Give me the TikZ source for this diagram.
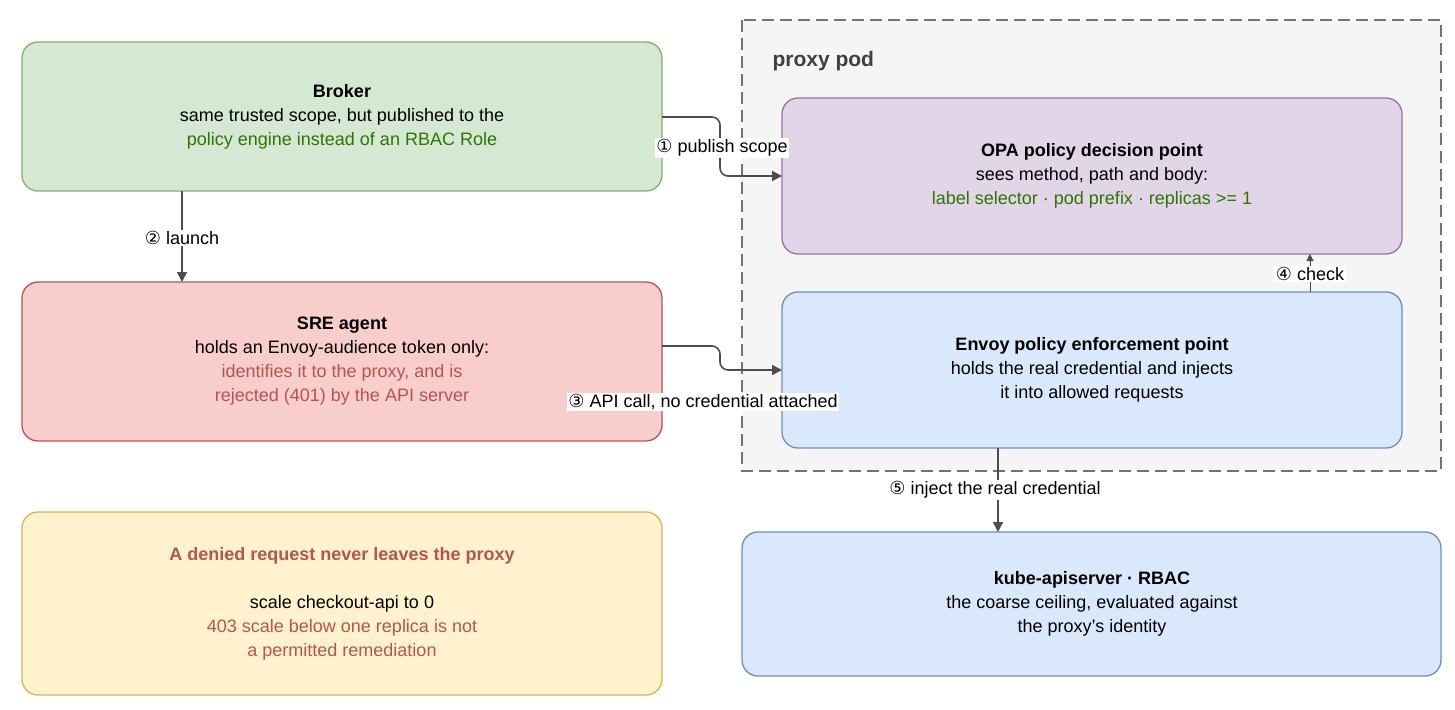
\documentclass[tikz,border=0pt]{standalone}
\usepackage{fontspec}
\setmainfont{Liberation Sans}
\newfontfamily\symf{DejaVu Sans}
\usetikzlibrary{arrows.meta}
\definecolor{gfill}{HTML}{D5E8D4}\definecolor{gline}{HTML}{82B366}
\definecolor{rfill}{HTML}{F8CECC}\definecolor{rline}{HTML}{B85450}
\definecolor{yfill}{HTML}{FFF2CC}\definecolor{yline}{HTML}{D6B656}
\definecolor{pfill}{HTML}{E1D5E7}\definecolor{pline}{HTML}{9673A6}
\definecolor{bfill}{HTML}{DAE8FC}\definecolor{bline}{HTML}{6C8EBF}
\definecolor{gtext}{HTML}{2D7600}\definecolor{rtext}{HTML}{B85450}
\definecolor{arr}{HTML}{4D4D4D}
\tikzset{
 box/.style={draw, rounded corners=16pt, line width=1.3pt},
 txt/.style={align=center, font=\fontsize{18}{24}\selectfont},
 conn/.style={draw=arr, line width=1.6pt, rounded corners=8pt, -{Triangle[length=10pt,width=10pt]}},
 lab/.style={fill=white, inner sep=1.5pt, font=\fontsize{18}{22}\selectfont},
}
\begin{document}
\begin{tikzpicture}[x=1pt,y=-1pt]
\useasboundingbox (0,0) rectangle (1455,709);
\draw[fill=white!96!black, draw=gray!90!black, dashed, dash pattern=on 12pt off 6pt, line width=1.3pt] (742,20) rectangle (1441,471);
\node[anchor=west, font=\bfseries\fontsize{21}{24}\selectfont, text=black!75] (pp) at (769,61) {proxy pod};
\path[box, fill=gfill, draw=gline] (22,42) rectangle (662,191);
\node[txt] (broker) at (342,117) {\textbf{Broker}\\same trusted scope, but published to the\\\textcolor{gtext}{policy engine instead of an RBAC Role}};
\path[box, fill=rfill, draw=rline] (22,282) rectangle (662,441);
\node[txt] (sre) at (342,361) {\textbf{SRE agent}\\holds an Envoy-audience token only:\\\textcolor{rtext}{identifies it to the proxy, and is}\\\textcolor{rtext}{rejected (401) by the API server}};
\path[box, fill=yfill, draw=yline] (22,512) rectangle (662,695);
\node[txt] (deny) at (342,604) {\textcolor{rtext}{\textbf{A denied request never leaves the proxy}}\\[24pt]scale checkout-api to 0\\\textcolor{rtext}{403 scale below one replica is not}\\\textcolor{rtext}{a permitted remediation}};
\path[box, fill=pfill, draw=pline] (782,98) rectangle (1402,254);
\node[txt] (opa) at (1092,176) {\textbf{OPA policy decision point}\\sees method, path and body:\\\textcolor{gtext}{label selector · pod prefix · replicas >= 1}};
\path[box, fill=bfill, draw=bline] (782,292) rectangle (1402,448);
\node[txt] (envoy) at (1092,370) {\textbf{Envoy policy enforcement point}\\holds the real credential and injects\\it into allowed requests};
\path[box, fill=bfill, draw=bline] (742,532) rectangle (1441,676);
\node[txt] (kube) at (1092,604) {\textbf{kube-apiserver · RBAC}\\the coarse ceiling, evaluated against\\the proxy's identity};
\coordinate (b1) at (662,117); \coordinate (o1) at (782,176);
\coordinate (b2) at (182,191); \coordinate (s2) at (182,282);
\coordinate (s3) at (662,346); \coordinate (e3) at (782,370);
\coordinate (e4) at (1310,292); \coordinate (o4) at (1310,254);
\coordinate (e5) at (998,448); \coordinate (k5) at (998,532);
\draw[conn] (b1) -- (720,117) -- (720,176) -- (o1);
\draw[conn] (b2) -- (s2);
\draw[conn] (s3) -- (720,346) -- (720,370) -- (e3);
\draw[conn, -{Triangle[length=7pt,width=7pt]}, line width=1pt] (e4) -- (o4);
\draw[conn, line width=1.3pt] (e5) -- (k5);
\node[lab] (l1) at (722,148) {{\symf ①} publish scope};
\node[lab] (l2) at (182,238) {{\symf ②} launch};
\node[lab] (l3) at (703,402) {{\symf ③} API call, no credential attached};
\node[lab] (l4) at (1310,274) {{\symf ④} check};
\node[lab] (l5) at (995,490) {{\symf ⑤} inject the real credential};
\end{tikzpicture}
\end{document}
